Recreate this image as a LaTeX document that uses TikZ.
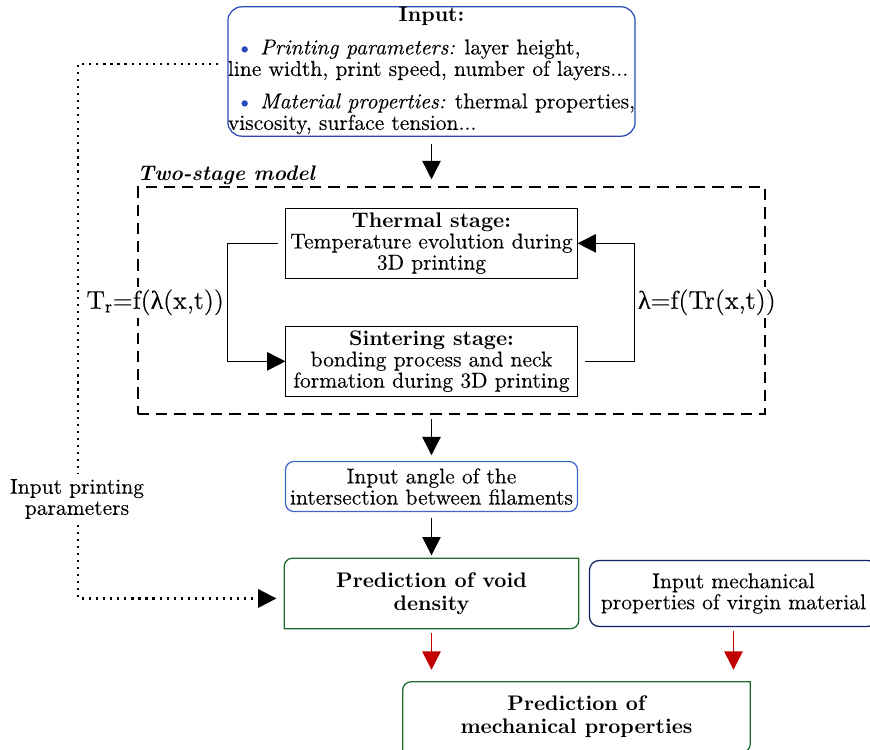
\documentclass[tikz,border=0pt]{standalone}
\usepackage{fontspec}
\usepackage{xcolor}
\usepackage{tikz}
\usetikzlibrary{arrows.meta,positioning}

\setmainfont{lmroman10}[Extension=.otf, UprightFont=*-regular, BoldFont=*-bold, ItalicFont=*-italic, BoldItalicFont=*-bolditalic, UprightFeatures={FakeBold=0.12}, ItalicFeatures={FakeBold=0.12}]
\newfontfamily\greekfont{Liberation Serif}[FakeBold=0.12]
\definecolor{inputblue}{RGB}{45,75,185}
\definecolor{angleblue}{RGB}{65,100,205}
\definecolor{navyblue}{RGB}{15,35,100}
\definecolor{leafgreen}{RGB}{25,110,45}
\definecolor{arrowred}{RGB}{195,0,0}
\newcommand{\stagetitle}[1]{{\fontsize{15}{15.5}\selectfont\bfseries #1}}

\begin{document}
\begin{tikzpicture}[x=0.025cm, y=-0.025cm, >={Triangle[length=13pt,width=13pt]},
    font=\fontsize{15.3}{15}\selectfont]
    \tikzstyle{inputbox} = [rectangle, draw=inputblue, line width=0.9pt, rounded corners=10pt, minimum width=10.125cm, minimum height=3.175cm, inner xsep=0pt, inner ysep=0pt, align=center]
    \tikzstyle{stagebox} = [rectangle, draw, line width=0.7pt, minimum width=7.275cm, minimum height=1.75cm, inner sep=1pt, align=center]
    \tikzstyle{anglebox} = [rectangle, draw=angleblue, line width=0.9pt, rounded corners=6pt, minimum width=7.3cm, minimum height=1.25cm, inner sep=1pt, align=center]
    \tikzstyle{mechbox} = [rectangle, draw=navyblue, line width=0.9pt, rounded corners=7pt, minimum width=7.2cm, minimum height=1.65cm, inner sep=1pt, align=center]
    \tikzstyle{leafbox} = [rectangle, minimum height=1.75cm, inner sep=1pt, align=center, font=\fontsize{15}{16.5}\selectfont\bfseries]
    \tikzstyle{frame} = [rectangle, draw, line width=1pt, dash pattern=on 8pt off 5pt, minimum width=15.675cm, minimum height=5.675cm, inner sep=0pt]
    \tikzstyle{flow} = [->, line width=1pt]
    \tikzstyle{redflow} = [->, line width=1pt, draw=arrowred]
    \tikzstyle{loopline} = [->, line width=1pt]
    \tikzstyle{dotline} = [line width=1.5pt, dash pattern=on 1.5pt off 3.5pt]
    \tikzstyle{funclabel} = [font=\fontsize{18.3}{20}\selectfont, inner sep=2pt, fill=white]

    \useasboundingbox (0,0) rectangle (870,750);

    % Input
    \node [inputbox] (input) at (431.5,71.5) {{\fontsize{15}{15.5}\selectfont\textbf{Input:}}\\[9pt]
        \begin{tabular}{@{}l@{}}
        \hspace*{6pt}{\color{inputblue}\textbullet}~\textit{Printing parameters:} layer height,\\
        line width, print speed, number of layers...\\[8pt]
        \hspace*{6pt}{\color{inputblue}\textbullet}~\textit{Material properties:} thermal properties,\\
        viscosity, surface tension...
        \end{tabular}};

    % Two-stage model
    \node [frame] (model) at (451.5,300.5) {};
    \node [above right, inner sep=1pt, xshift=-1pt, font=\fontsize{15}{15.5}\selectfont\bfseries\itshape] (modellbl) at (model.north west) {Two-stage model};
    \node [stagebox, below=1.775cm of input] (thermal) {\stagetitle{Thermal stage:}\\ Temperature evolution during\\ 3D printing};
    \node [stagebox, below=1.175cm of thermal] (sinter) {\stagetitle{Sintering stage:}\\ bonding process and neck\\ formation during 3D printing};
    \draw [loopline, shorten <=5pt] (thermal.west) -- ++(-1.45cm,0) |- node[funclabel, left, pos=0.25] (tlabel) {T\textsubscript{r}=f({\greekfont λ}(x,t))} (sinter.west);
    \draw [loopline, shorten <=5pt] (sinter.east) -- ++(1.425cm,0) |- node[funclabel, right, pos=0.25] (llabel) {{\greekfont λ}=f(Tr(x,t))} (thermal.east);

    % Angle and predictions
    \node [anglebox, below=1.6cm of sinter] (angle) {Input angle of the\\ intersection between filaments};
    \node [leafbox, minimum width=7.35cm, below=1.15cm of angle] (void) {Prediction of void\\ density};
    \draw [leafgreen, line width=0.9pt] (void.south west) -- ([yshift=-6pt]void.north west) to[out=90,in=180] ([xshift=6pt]void.north west)
        -- (void.north east) -- ([yshift=6pt]void.south east) to[out=-90,in=0] ([xshift=-6pt]void.south east) -- cycle;
    \node [mechbox, right=0.25cm of void] (mechin) {Input mechanical\\ properties of virgin material};
    \node [leafbox, minimum width=8.675cm] (mechout) at (576.5,717) {Prediction of\\ mechanical properties};
    \draw [leafgreen, line width=0.9pt] (mechout.south west) -- ([yshift=-6pt]mechout.north west) to[out=90,in=180] ([xshift=6pt]mechout.north west)
        -- (mechout.north east) -- ([yshift=6pt]mechout.south east) to[out=-90,in=0] ([xshift=-6pt]mechout.south east) -- cycle;

    % Printing parameters shortcut
    \coordinate (dotstart) at (218,64);
    \node [align=center, inner sep=1pt] (printlbl) at (77,499) {Input printing\\ parameters};
    \draw [dotline] (dotstart) -| ([xshift=1pt,yshift=3pt]printlbl.north);
    \draw [dotline, ->, shorten >=5.5pt] ([xshift=1pt,yshift=-3pt]printlbl.south) |- ([yshift=-0.125cm]void.west);

    % Arrows
    \draw [flow, shorten <=5pt, shorten >=5pt] (input.south) -- (input.south |- model.north);
    \draw [flow, shorten <=3pt, shorten >=4pt] (model.south -| angle.north) -- (angle.north);
    \draw [flow, shorten <=4pt, shorten >=2pt] (angle) -- (void);
    \draw [redflow, shorten <=3pt, shorten >=8.5pt] (void.south) -- (void.south |- mechout.north);
    \draw [redflow, shorten <=3pt, shorten >=8.5pt] (mechin.south) -- (mechin.south |- mechout.north);
\end{tikzpicture}
\end{document}
